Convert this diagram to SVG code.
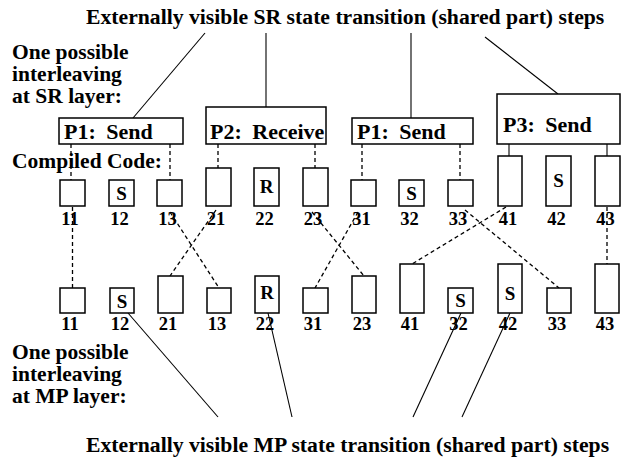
<svg xmlns="http://www.w3.org/2000/svg" width="626" height="461" viewBox="0 0 626 461">
<style>
text{font-family:"Liberation Serif","Times New Roman",serif;font-weight:bold;fill:#000}
.h{font-size:21.7px}
.lbl{font-size:21.5px}
.sr{font-size:22px;word-spacing:5px}
.num{font-size:18.5px;text-anchor:middle}
.ch{font-size:19px;text-anchor:middle}
.box{fill:#fff;stroke:#000;stroke-width:1.5}
.ln{stroke:#000;stroke-width:1.1;fill:none}
.dash{stroke:#000;stroke-width:1.3;fill:none;stroke-dasharray:4 3}
</style>
<rect width="626" height="461" fill="#fff"/>
<g id="labels">
<text class="h" x="86" y="24">Externally visible SR state transition (shared part) steps</text>
<text class="lbl" x="12" y="59">One possible</text>
<text class="lbl" x="12" y="81">interleaving</text>
<text class="lbl" x="12" y="103">at SR layer:</text>
<text class="lbl" x="12" y="168">Compiled Code:</text>
<text class="lbl" x="12" y="359">One possible</text>
<text class="lbl" x="12" y="381">interleaving</text>
<text class="lbl" x="12" y="403">at MP layer:</text>
<text class="h" x="86" y="452">Externally visible MP state transition (shared part) steps</text>
</g>
<g id="connectors">
<line class="ln" x1="205" y1="33" x2="133" y2="118"/>
<line class="ln" x1="266" y1="33" x2="266" y2="107"/>
<line class="ln" x1="411" y1="33" x2="411" y2="118"/>
<line class="ln" x1="485" y1="37" x2="558" y2="94"/>
<line class="dash" x1="71" y1="144" x2="71" y2="180"/>
<line class="dash" x1="170" y1="144" x2="170" y2="180"/>
<line class="dash" x1="218" y1="144" x2="218" y2="168"/>
<line class="dash" x1="315" y1="144" x2="315" y2="168"/>
<line class="dash" x1="362" y1="144" x2="362" y2="180"/>
<line class="dash" x1="460" y1="144" x2="460" y2="180"/>
<line class="ln" x1="509" y1="144" x2="509" y2="156"/>
<line class="ln" x1="607" y1="144" x2="607" y2="156"/>
<line class="dash" x1="72.5" y1="207" x2="72.5" y2="288"/>
<line class="dash" x1="170" y1="212" x2="219" y2="288"/>
<line class="dash" x1="216" y1="210" x2="170" y2="276"/>
<line class="dash" x1="312" y1="212" x2="364" y2="276"/>
<line class="dash" x1="358" y1="212" x2="315" y2="288"/>
<line class="dash" x1="465" y1="210" x2="559" y2="288"/>
<line class="dash" x1="506" y1="207" x2="412" y2="264"/>
<line class="dash" x1="607" y1="207" x2="607" y2="264"/>
<line class="ln" x1="128" y1="313" x2="218" y2="417"/>
<line class="ln" x1="268" y1="313" x2="292" y2="417"/>
<line class="ln" x1="461" y1="313" x2="413" y2="417"/>
<line class="ln" x1="510" y1="313" x2="462" y2="417"/>
</g>
<g id="sr-p1-send-a"><rect class="box" x="59" y="118" width="124" height="26"/><text class="sr" x="64" y="139">P1: Send</text></g>
<g id="sr-p2-receive"><rect class="box" x="206" y="107" width="120" height="37"/><text class="sr" x="210" y="139">P2: Receive</text></g>
<g id="sr-p1-send-b"><rect class="box" x="352" y="118" width="121" height="26"/><text class="sr" x="357" y="139">P1: Send</text></g>
<g id="sr-p3-send"><rect class="box" x="497" y="94" width="123" height="50"/><text class="sr" x="503" y="132">P3: Send</text></g>
<g id="c11"><rect class="box" x="60" y="180" width="25" height="26"/><text class="num" x="70" y="225">11</text></g>
<g id="c12"><rect class="box" x="109" y="180" width="25" height="26"/><text class="ch" x="121.5" y="200">S</text><text class="num" x="119.5" y="225">12</text></g>
<g id="c13"><rect class="box" x="157" y="180" width="25" height="26"/><text class="num" x="167.5" y="225">13</text></g>
<g id="c21"><rect class="box" x="206" y="168" width="25" height="38"/><text class="num" x="216" y="225">21</text></g>
<g id="c22"><rect class="box" x="254" y="168" width="25" height="38"/><text class="ch" x="266.5" y="193">R</text><text class="num" x="264.5" y="225">22</text></g>
<g id="c23"><rect class="box" x="303" y="168" width="25" height="38"/><text class="num" x="313" y="225">23</text></g>
<g id="c31"><rect class="box" x="351" y="180" width="25" height="26"/><text class="num" x="361.5" y="225">31</text></g>
<g id="c32"><rect class="box" x="399" y="180" width="25" height="26"/><text class="ch" x="411.5" y="200">S</text><text class="num" x="409.5" y="225">32</text></g>
<g id="c33"><rect class="box" x="448" y="180" width="25" height="26"/><text class="num" x="458" y="225">33</text></g>
<g id="c41"><rect class="box" x="498" y="156" width="24" height="50"/><text class="num" x="508" y="225">41</text></g>
<g id="c42"><rect class="box" x="546" y="156" width="25" height="50"/><text class="ch" x="558.5" y="187">S</text><text class="num" x="556.5" y="225">42</text></g>
<g id="c43"><rect class="box" x="595" y="156" width="25" height="50"/><text class="num" x="605.5" y="225">43</text></g>
<g id="m11"><rect class="box" x="60" y="288" width="25" height="25"/><text class="num" x="70" y="330">11</text></g>
<g id="m12"><rect class="box" x="110" y="288" width="24" height="25"/><text class="ch" x="122" y="308">S</text><text class="num" x="120" y="330">12</text></g>
<g id="m21"><rect class="box" x="158" y="276" width="25" height="37"/><text class="num" x="168" y="330">21</text></g>
<g id="m13"><rect class="box" x="207" y="288" width="24" height="25"/><text class="num" x="217" y="330">13</text></g>
<g id="m22"><rect class="box" x="255" y="276" width="24" height="37"/><text class="ch" x="267" y="299">R</text><text class="num" x="265" y="330">22</text></g>
<g id="m31"><rect class="box" x="303" y="288" width="25" height="25"/><text class="num" x="313" y="330">31</text></g>
<g id="m23"><rect class="box" x="352" y="276" width="24" height="37"/><text class="num" x="362" y="330">23</text></g>
<g id="m41"><rect class="box" x="400" y="264" width="24" height="49"/><text class="num" x="410" y="330">41</text></g>
<g id="m32"><rect class="box" x="448" y="288" width="25" height="25"/><text class="ch" x="460.5" y="307">S</text><text class="num" x="458.5" y="330">32</text></g>
<g id="m42"><rect class="box" x="498" y="264" width="24" height="49"/><text class="ch" x="510" y="300">S</text><text class="num" x="508" y="330">42</text></g>
<g id="m33"><rect class="box" x="547" y="288" width="24" height="25"/><text class="num" x="557" y="330">33</text></g>
<g id="m43"><rect class="box" x="595" y="264" width="24" height="49"/><text class="num" x="605" y="330">43</text></g>
</svg>
